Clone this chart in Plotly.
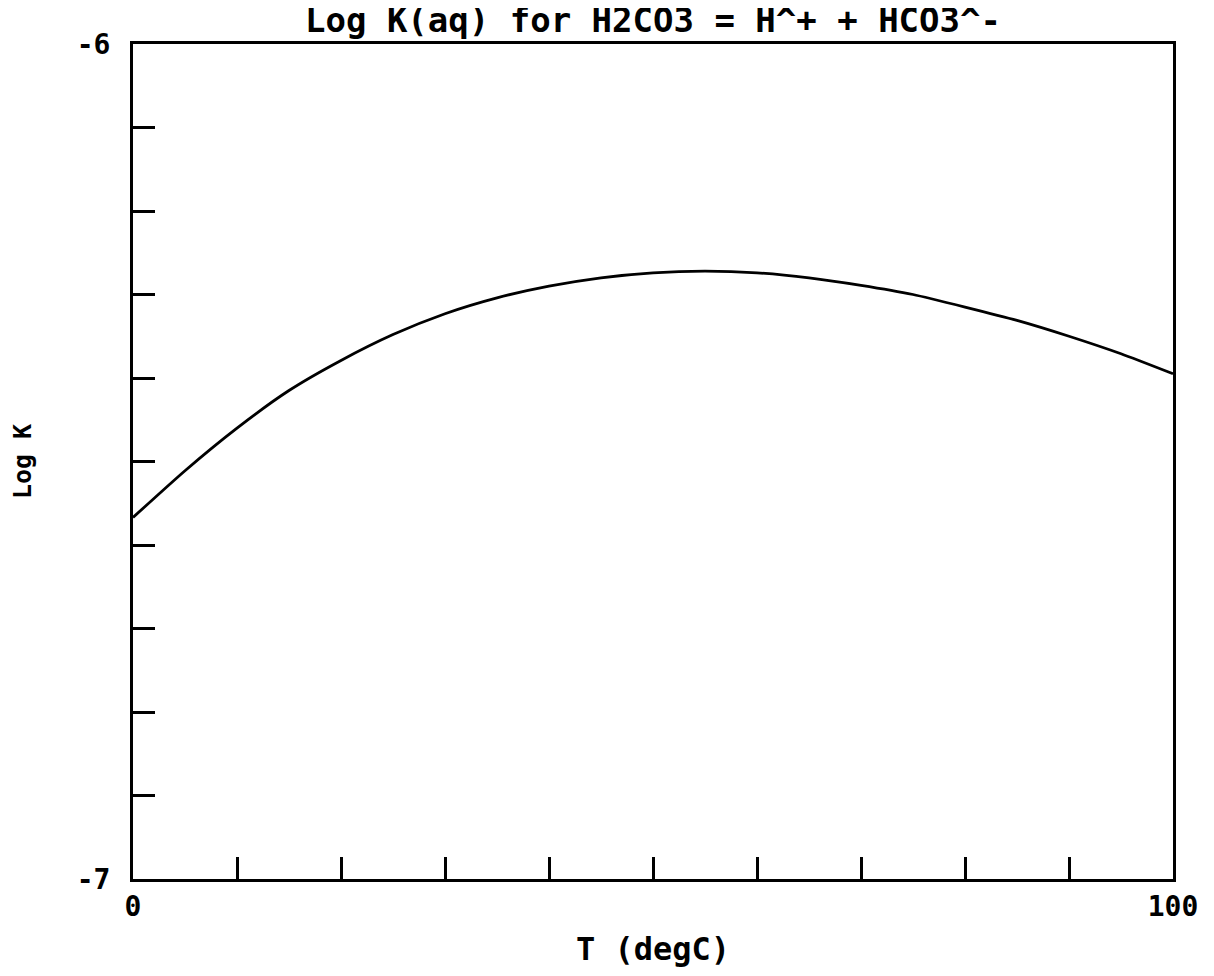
import plotly.graph_objects as go

# Data
temperature_c = [0, 5, 10, 15, 20, 25, 30, 35, 40, 45, 50, 55, 60, 65, 70, 75, 80, 85, 90, 95, 100]
log_k = [-6.567, -6.511, -6.460, -6.415, -6.379, -6.348, -6.323, -6.304, -6.290, -6.280,
         -6.274, -6.272, -6.274, -6.280, -6.289, -6.300, -6.315, -6.331, -6.350, -6.371, -6.395]

x_tickvals = [0, 10, 20, 30, 40, 50, 60, 70, 80, 90, 100]
x_ticktext = ["0", "", "", "", "", "", "", "", "", "", "100"]
y_tickvals = [-7.0, -6.9, -6.8, -6.7, -6.6, -6.5, -6.4, -6.3, -6.2, -6.1, -6.0]
y_ticktext = ["-7", "", "", "", "", "", "", "", "", "", "-6"]

FONT = "DejaVu Sans Mono"
W, H = 1198, 960  # page adds 8px body margin on each side

fig = go.Figure()
fig.add_trace(go.Scatter(
    x=temperature_c, y=log_k, mode="lines",
    line=dict(color="black", width=2.8, shape="spline", smoothing=0.6),
    showlegend=False, hoverinfo="skip",
))

fig.update_layout(
    width=W, height=H,
    margin=dict(l=125, r=33, t=36, b=89, autoexpand=False),
    paper_bgcolor="white", plot_bgcolor="white",
    title=dict(text="<b>Log K(aq) for H2CO3 = H^+ + HCO3^-</b>",
               font=dict(family=FONT, size=34, color="black"),
               x=0.5, xanchor="center", xref="paper",
               y=1.0, yref="container", yanchor="top"),
    font=dict(family=FONT, color="black"),
)

fig.update_xaxes(
    range=[0, 100], tickvals=x_tickvals,
    ticktext=["<b>%s</b>" % t if t else "" for t in x_ticktext],
    ticks="inside", ticklen=22, tickwidth=2.5, tickcolor="black",
    showline=True, linecolor="black", linewidth=3, mirror=True,
    showgrid=False, zeroline=False, automargin=False,
    tickfont=dict(family=FONT, size=28, color="black"),
    ticklabelstandoff=0,
    title=dict(text="<b>T (degC)</b>", font=dict(family=FONT, size=32, color="black"), standoff=18),
)
fig.update_yaxes(
    range=[-7, -6], tickvals=y_tickvals,
    ticktext=["<b>%s</b>" % t if t else "" for t in y_ticktext],
    ticks="inside", ticklen=22, tickwidth=2.5, tickcolor="black",
    showline=True, linecolor="black", linewidth=3, mirror=True,
    showgrid=False, zeroline=False, automargin=False,
    tickfont=dict(family=FONT, size=28, color="black"),
    ticklabelstandoff=14,
    title=dict(text="<b>Log K</b>", font=dict(family=FONT, size=25, color="black"), standoff=38),
)

fig.write_html("out.html")
